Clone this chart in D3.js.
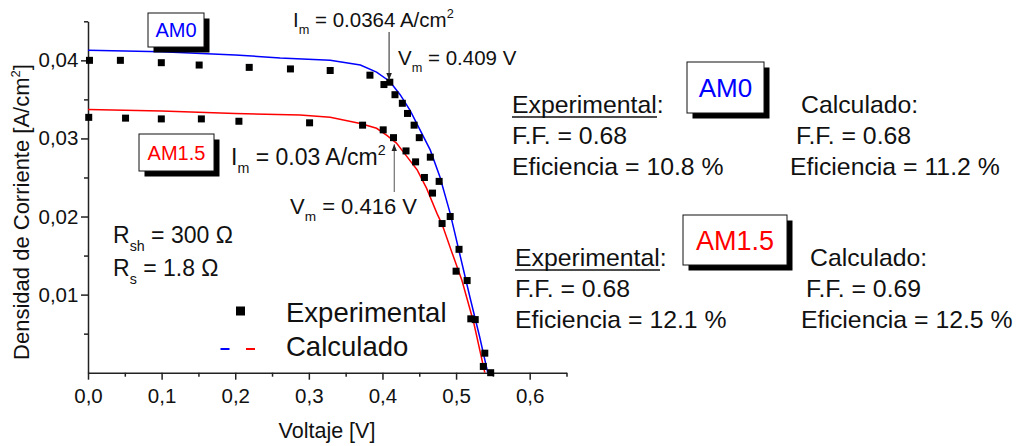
<!DOCTYPE html>
<html>
<head>
<meta charset="utf-8">
<script src="https://cdn.jsdelivr.net/npm/d3@7/dist/d3.min.js"></script>
<style>
  html, body { margin: 0; padding: 0; background: #fff; }
  svg { display: block; font-family: "Liberation Sans", Arial, sans-serif; }
</style>
</head>
<body>
<svg id="chart" width="1023" height="446"></svg>
<script>
// Measured J-V points (experimental) for AM0 and AM1.5 illumination
const expAM0V = [0.002, 0.044, 0.0996, 0.151, 0.219, 0.275, 0.329, 0.383, 0.402, 0.410, 0.417, 0.427, 0.434, 0.443, 0.450, 0.465, 0.477, 0.492, 0.504, 0.515, 0.526, 0.539, 0.547];
const expAM0J = [0.0400, 0.0400, 0.0397, 0.0394, 0.0391, 0.0389, 0.0387, 0.0381, 0.0369, 0.0372, 0.0356, 0.0345, 0.0332, 0.0317, 0.0301, 0.0276, 0.0245, 0.0200, 0.0158, 0.0118, 0.0068, 0.0025, 0.0000];
const expAM15V = [0.001, 0.051, 0.0996, 0.154, 0.205, 0.301, 0.373, 0.401, 0.415, 0.432, 0.445, 0.457, 0.468, 0.481, 0.500, 0.520, 0.537];
const expAM15J = [0.0327, 0.0326, 0.0325, 0.0325, 0.0322, 0.0320, 0.0317, 0.0311, 0.0301, 0.0284, 0.0270, 0.0250, 0.0230, 0.0191, 0.0130, 0.0069, 0.0008];

// Calculated (model) curves
const calcAM0V = [0, 0.1, 0.2, 0.261, 0.329, 0.370, 0.392, 0.410, 0.424, 0.4375, 0.451, 0.465, 0.478, 0.492, 0.505, 0.519, 0.532, 0.543];
const calcAM0J = [0.0413, 0.0411, 0.0407, 0.0403, 0.0400, 0.0394, 0.0385, 0.0373, 0.0356, 0.0336, 0.0311, 0.0285, 0.0251, 0.0204, 0.0152, 0.0096, 0.0046, 0.0];
const calcAM15V = [0, 0.1, 0.2, 0.288, 0.329, 0.370, 0.392, 0.406, 0.419, 0.433, 0.447, 0.460, 0.474, 0.481, 0.494, 0.508, 0.524, 0.539];
const calcAM15J = [0.0337, 0.0335, 0.0332, 0.0330, 0.0327, 0.0319, 0.0313, 0.0304, 0.0294, 0.0277, 0.0260, 0.0236, 0.0204, 0.0190, 0.0155, 0.0118, 0.0064, 0.0];

// Maximum-power point values
const mppAM0 = { vm: 0.409, im: 0.0364 };
const mppAM15 = { vm: 0.416, im: 0.03 };

// Axis ticks
const xTicks = [0, 0.1, 0.2, 0.3, 0.4, 0.5, 0.6];
const xMinor = [0.05, 0.15, 0.25, 0.35, 0.45, 0.55, 0.65];
const yTicks = [0.01, 0.02, 0.03, 0.04];
const yMinor = [0.005, 0.015, 0.025, 0.035, 0.045];

const svg = d3.select("#chart");
const x = d3.scaleLinear().domain([0, 0.65]).range([88, 566.5]);
const y = d3.scaleLinear().domain([0, 0.045]).range([372.7, 21.3]);

// Axes
const gx = svg.append("g").attr("transform", `translate(0,${y(0)})`)
  .call(d3.axisBottom(x).tickValues(xTicks).tickSize(7).tickSizeOuter(0)
    .tickFormat(d => d3.format(".1f")(d).replace(".", ",")));
svg.append("g").attr("transform", `translate(0,${y(0)})`)
  .call(d3.axisBottom(x).tickValues(xMinor).tickSize(4).tickSizeOuter(0).tickFormat(""))
  .select(".domain").remove();
const gy = svg.append("g").attr("transform", `translate(${x(0)},0)`)
  .call(d3.axisLeft(y).tickValues(yTicks).tickSize(7).tickSizeOuter(0)
    .tickFormat(d => d3.format(".2f")(d).replace(".", ",")));
svg.append("g").attr("transform", `translate(${x(0)},0)`)
  .call(d3.axisLeft(y).tickValues(yMinor).tickSize(4).tickSizeOuter(0).tickFormat(""))
  .select(".domain").remove();
svg.selectAll(".domain, .tick line").attr("stroke", "#222").attr("stroke-width", 1.5);
gx.selectAll(".tick text").attr("font-size", 20.5).attr("fill", "#111").attr("dy", "1.0em")
  .attr("font-family", "Liberation Sans, Arial, sans-serif");
gy.selectAll(".tick text").attr("font-size", 20.5).attr("fill", "#111").attr("dx", "0.02em")
  .attr("font-family", "Liberation Sans, Arial, sans-serif");

// Axis titles
svg.append("text").attr("x", 327).attr("y", 438).attr("text-anchor", "middle")
  .attr("font-size", 21.5).attr("fill", "#111").text("Voltaje [V]");
const yl = svg.append("text").attr("transform", "translate(29,212) rotate(-90)")
  .attr("text-anchor", "middle").attr("font-size", 22).attr("fill", "#111");
yl.append("tspan").text("Densidad de Corriente [A/cm");
yl.append("tspan").attr("font-size", 13).attr("dy", -9).text("2");
yl.append("tspan").attr("dy", 9).text("]");

// Calculated curves
const line = d3.line().x(d => x(d[0])).y(d => y(d[1]));
svg.append("path").datum(d3.zip(calcAM15V, calcAM15J)).attr("d", line)
  .attr("fill", "none").attr("stroke", "#ff0000").attr("stroke-width", 1.5);
svg.append("path").datum(d3.zip(calcAM0V, calcAM0J)).attr("d", line)
  .attr("fill", "none").attr("stroke", "#0000ff").attr("stroke-width", 1.5);

// Experimental points
const sq = 7;
const pts = d3.zip(expAM0V, expAM0J).concat(d3.zip(expAM15V, expAM15J));
svg.append("g").selectAll("rect").data(pts).join("rect")
  .attr("x", d => x(d[0]) - sq / 2).attr("y", d => y(d[1]) - sq / 2)
  .attr("width", sq).attr("height", sq).attr("fill", "#000");

// Boxed labels with drop shadow
function boxLabel(cx, cy, w, h, txt, color, fs) {
  const g = svg.append("g");
  g.append("rect").attr("x", cx - w / 2 + 5.5).attr("y", cy - h / 2 + 5.5)
    .attr("width", w).attr("height", h).attr("fill", "#000");
  g.append("rect").attr("x", cx - w / 2).attr("y", cy - h / 2)
    .attr("width", w).attr("height", h).attr("fill", "#fff")
    .attr("stroke", "#111").attr("stroke-width", 1);
  g.append("text").attr("x", cx).attr("y", cy + fs * 0.36).attr("text-anchor", "middle")
    .attr("font-size", fs).attr("fill", color).text(txt);
}
boxLabel(176, 30, 56, 34, "AM0", "#0000ff", 20);
boxLabel(176.5, 152.5, 75, 37, "AM1.5", "#ff0000", 20);
boxLabel(725.5, 87.5, 77, 51, "AM0", "#0000ff", 26);
boxLabel(735, 240, 104, 50, "AM1.5", "#ff0000", 27);

// Text with sub/superscripts: parts = [[text, kind]]
function richText(xp, yp, fs, parts) {
  const t = svg.append("text").attr("x", xp).attr("y", yp).attr("font-size", fs).attr("fill", "#111");
  let shift = 0;
  parts.forEach(([s, kind]) => {
    const sp = t.append("tspan").text(s);
    let target = 0;
    if (kind === "sub") { sp.attr("font-size", fs * 0.62); target = fs * 0.33; }
    if (kind === "sup") { sp.attr("font-size", fs * 0.62); target = -fs * 0.42; }
    sp.attr("dy", target - shift);
    shift = target;
  });
  return t;
}

// Maximum-power point annotations
const interp = (vs, js, v) => d3.scaleLinear().domain(vs).range(js)(v);
const tipAM0 = y(interp(calcAM0V, calcAM0J, mppAM0.vm)) - 1;
const tipAM15 = y(interp(calcAM15V, calcAM15J, mppAM15.vm)) + 3;
const defs = svg.append("defs");
defs.append("marker").attr("id", "ah").attr("viewBox", "0 0 10 10").attr("refX", 10).attr("refY", 5)
  .attr("markerWidth", 7).attr("markerHeight", 7).attr("orient", "auto-start-reverse")
  .append("path").attr("d", "M0,1 L10,5 L0,9 Z").attr("fill", "#222");
svg.append("line").attr("x1", x(mppAM0.vm)).attr("x2", x(mppAM0.vm)).attr("y1", 32).attr("y2", tipAM0)
  .attr("stroke", "#222").attr("stroke-width", 1).attr("marker-end", "url(#ah)");
svg.append("line").attr("x1", x(mppAM15.vm)).attr("x2", x(mppAM15.vm)).attr("y1", 192).attr("y2", tipAM15)
  .attr("stroke", "#555").attr("stroke-width", 1).attr("marker-end", "url(#ah)");

richText(293, 27, 20.5, [["I", ""], ["m", "sub"], [" = " + mppAM0.im + " A/cm", ""], ["2", "sup"]]);
richText(398, 65, 20.5, [["V", ""], ["m", "sub"], [" = " + mppAM0.vm + " V", ""]]);
richText(231, 165, 23, [["I", ""], ["m", "sub"], [" = " + mppAM15.im + " A/cm", ""], ["2", "sup"]]);
richText(290, 214, 22, [["V", ""], ["m", "sub"], [" = " + mppAM15.vm + " V", ""]]);

// Resistances
richText(113, 243, 23, [["R", ""], ["sh", "sub"], [" = 300 \u03A9", ""]]);
richText(113, 276, 23, [["R", ""], ["s", "sub"], [" = 1.8 \u03A9", ""]]);

// Legend
svg.append("rect").attr("x", 236).attr("y", 306.5).attr("width", 9).attr("height", 9).attr("fill", "#000");
svg.append("text").attr("x", 286).attr("y", 322).attr("font-size", 27.5).attr("fill", "#111").text("Experimental");
svg.append("line").attr("x1", 220.5).attr("x2", 229.5).attr("y1", 349).attr("y2", 349)
  .attr("stroke", "#0000ff").attr("stroke-width", 2);
svg.append("line").attr("x1", 246).attr("x2", 255).attr("y1", 349).attr("y2", 349)
  .attr("stroke", "#ff0000").attr("stroke-width", 2);
svg.append("text").attr("x", 286).attr("y", 356).attr("font-size", 27.5).attr("fill", "#111").text("Calculado");

// Fill factor / efficiency summaries
function summary(xe, xc, yb, expFF, expEff, calFF, calEff, dxCalc) {
  const fs = 24.8, lh = 31;
  const t = svg.append("text").attr("x", xe).attr("y", yb).attr("font-size", fs).attr("fill", "#111");
  t.append("tspan").text("Experimental");
  t.append("tspan").text(":");
  svg.append("line").attr("x1", xe).attr("x2", xe + 145).attr("y1", yb + 4).attr("y2", yb + 4)
    .attr("stroke", "#111").attr("stroke-width", 1.4);
  svg.append("text").attr("x", xe).attr("y", yb + lh).attr("font-size", fs).attr("fill", "#111").text("F.F. = " + expFF);
  svg.append("text").attr("x", xe).attr("y", yb + 2 * lh).attr("font-size", fs).attr("fill", "#111").text("Eficiencia = " + expEff + " %");
  svg.append("text").attr("x", xc + dxCalc[0]).attr("y", yb).attr("font-size", fs).attr("fill", "#111").text("Calculado:");
  svg.append("text").attr("x", xc + dxCalc[1]).attr("y", yb + lh).attr("font-size", fs).attr("fill", "#111").text("F.F. = " + calFF);
  svg.append("text").attr("x", xc).attr("y", yb + 2 * lh).attr("font-size", fs).attr("fill", "#111").text("Eficiencia = " + calEff + " %");
}
summary(512, 790, 113, "0.68", "10.8", "0.68", "11.2", [11, 6]);
summary(515, 801, 266, "0.68", "12.1", "0.69", "12.5", [9, 5]);
</script>
</body>
</html>
